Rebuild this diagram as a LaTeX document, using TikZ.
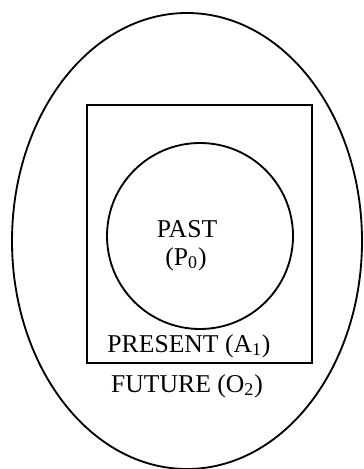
\documentclass[tikz,border=0pt]{standalone}
\usepackage{fontspec}
\setmainfont{Liberation Serif}
\usepackage{tikz}
\usetikzlibrary{positioning}

\tikzset{
    label text/.style={anchor=base, inner sep=0pt, font=\fontsize{14.6}{17}\selectfont},
}

\begin{document}
\begin{tikzpicture}[x=0.02cm, y=-0.02cm, line width=1.05pt]
    \useasboundingbox (0,0) rectangle (364,469);

    \coordinate (F) at (187,241);
    \coordinate (P1) at (87,105);
    \coordinate (P2) at (312,363);
    \coordinate (C) at (200,236);

    % future, present, past
    \draw (F) ellipse [x radius=175, y radius=228];
    \draw (P1) rectangle (P2);
    \draw (C) circle [radius=93];

    \node[label text] (past) at (187,237) {PAST};
    \node[label text] (pastsym) at (186,265) {(P\textsubscript{0})};
    \node[label text] (present) at (189,352) {PRESENT (A\textsubscript{1})};
    \node[label text] (future) at (187,392) {FUTURE (O\textsubscript{2})};
\end{tikzpicture}
\end{document}
